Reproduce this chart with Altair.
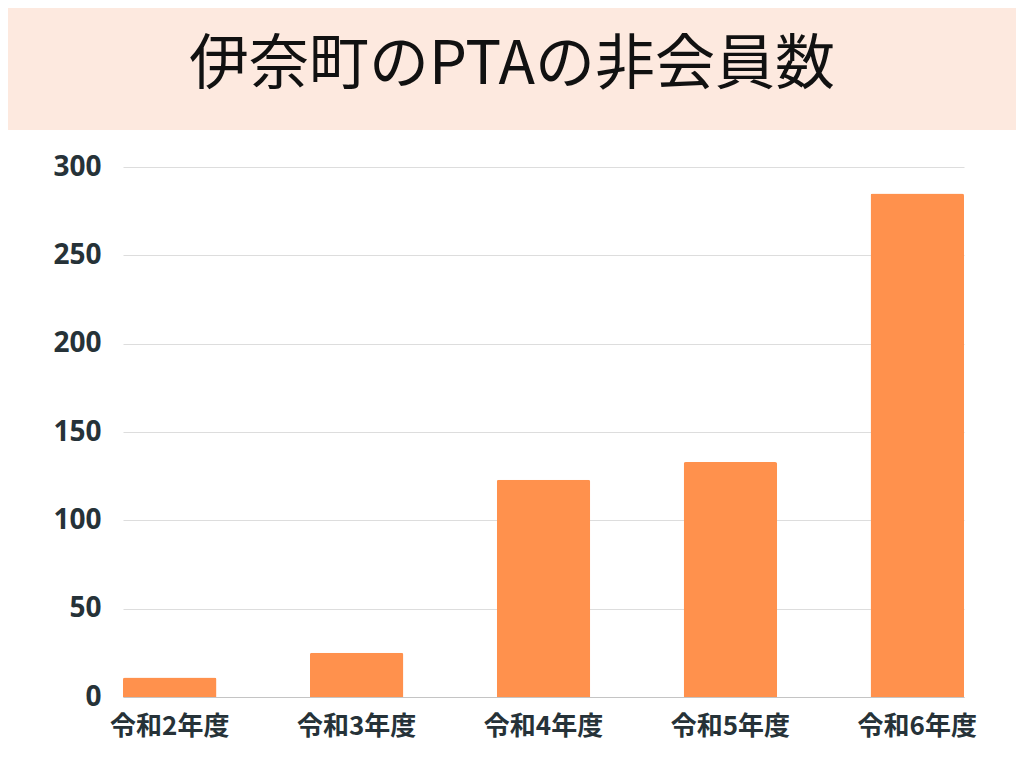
import altair as alt
import pandas as pd

categories = ["令和2年度", "令和3年度", "令和4年度", "令和5年度", "令和6年度"]
values = [11, 25, 123, 133, 285]
y_ticks = [0, 50, 100, 150, 200, 250, 300]
title_text = ["伊奈町のPTAの非会員数"]

df = pd.DataFrame({"category": categories, "value": values})
tdf = pd.DataFrame({"title": title_text})

W, H = 841, 530

header = alt.Chart(tdf).mark_rect(color="#fde9df", clip=False).encode(
    x=alt.value(-115), x2=alt.value(893), y=alt.value(-159), y2=alt.value(-37)
)
title = alt.Chart(tdf).mark_text(
    font="Noto Sans CJK JP", fontSize=60, fontWeight=400, color="#111111",
    align="center", baseline="middle", clip=False
).encode(x=alt.value(389), y=alt.value(-101), text="title:N")

bars = alt.Chart(df).mark_bar(
    color="#ff914d", cornerRadiusTopLeft=2, cornerRadiusTopRight=2
).encode(
    x=alt.X(
        "category:N", sort=categories,
        scale=alt.Scale(paddingInner=0.5, paddingOuter=0),
        axis=alt.Axis(
            title=None, labelAngle=0, labelFontSize=26, labelFont="Noto Sans CJK JP",
            labelFontWeight="bold", labelColor="#263238", domainColor="#c4c4c4",
            ticks=False, tickSize=0, labelPadding=16,
        ),
    ),
    y=alt.Y(
        "value:Q", scale=alt.Scale(domain=[0, 300]),
        axis=alt.Axis(
            values=y_ticks, title=None, labelFontSize=28, labelFont="Open Sans",
            labelFontWeight="bold", labelColor="#263238", domain=False,
            ticks=False, tickSize=0, gridColor="#dddddd", labelPadding=22,
        ),
    ),
)

chart = alt.layer(header, title, bars).properties(
    width=W, height=H,
    padding={"left": 0, "top": 0, "right": 0, "bottom": 8},
    background="white",
).configure_view(stroke=None)

chart.save("out.html", embed_options={"renderer": "svg", "actions": False})
